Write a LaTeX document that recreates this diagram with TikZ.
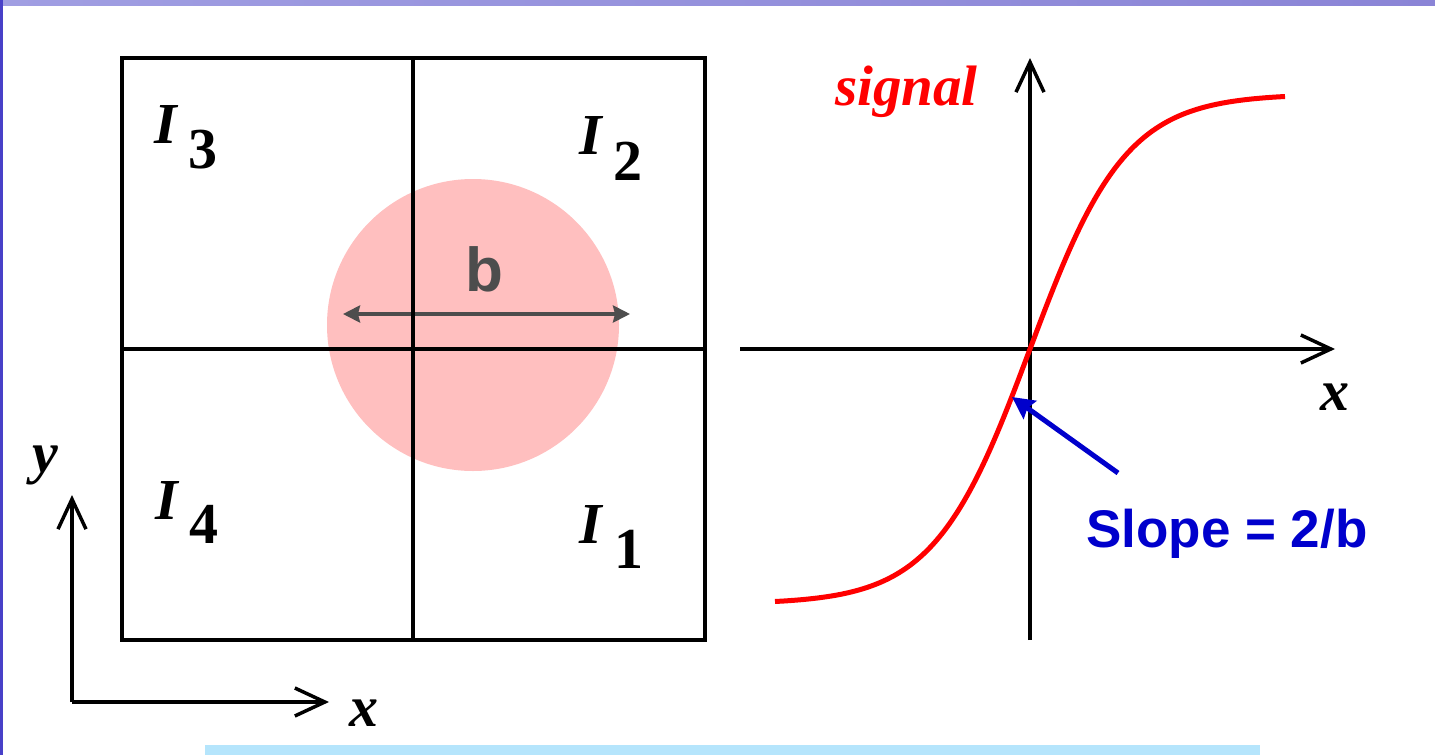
\documentclass[tikz,border=0pt]{standalone}
\usepackage{fontspec}
\setmainfont{Liberation Serif}
\newfontfamily\headfont{Liberation Sans}
\usepackage{xcolor}
\usetikzlibrary{arrows.meta, positioning}

\definecolor{slidetop}{RGB}{138,132,214}
\definecolor{slidetopl}{RGB}{160,158,226}
\definecolor{slideside}{RGB}{72,64,200}
\definecolor{captionbar}{RGB}{181,229,252}
\definecolor{spotpink}{RGB}{255,191,191}
\definecolor{beamgray}{RGB}{77,77,77}
\definecolor{slopeblue}{RGB}{0,0,204}

\begin{document}
\begin{tikzpicture}[
  x=1pt, y=-1pt,
  frame/.style={line width=3.5pt, black},
  axisarr/.style={line width=3.5pt, black,
    -{Straight Barb[length=30pt, width=28pt, line width=3.5pt]}},
  quad/.style={font=\fontsize{58}{60}\selectfont\bfseries\itshape,
    inner sep=0pt, anchor=base west},
  varlbl/.style={font=\fontsize{58}{60}\selectfont\bfseries\itshape,
    inner sep=0pt, anchor=base west},
  widtharr/.style={line width=3.5pt, beamgray,
    {Stealth[length=17pt, width=17pt, inset=2pt]}-{Stealth[length=17pt, width=17pt, inset=2pt]}},
  slopearr/.style={line width=5pt, slopeblue,
    -{Stealth[length=22pt, width=22pt, inset=3pt]}},
  curve/.style={line width=5pt, red},
]
  \useasboundingbox (0,0) rectangle (1435,755);

  % Slide background
  \shade[left color=slidetopl, right color=slidetop] (0,0) rectangle (1435,5);
  \fill[slideside] (0,0) rectangle (3,755);
  \fill[captionbar] (205,745) rectangle (1260,755);

  % Beam spot
  \fill[spotpink] (473,325) circle [radius=146pt];
  \coordinate (bl) at (343,314);
  \coordinate (br) at (630,314);
  \draw[widtharr] (bl) -- (br);
  \node[font=\headfont\fontsize{62}{64}\selectfont\bfseries, text=beamgray,
    inner sep=0pt, anchor=base west] (bwidth) at (465,291) {b};

  % Quadrant detector
  \coordinate (nw) at (122,58);
  \coordinate (se) at (705,640);
  \coordinate (n) at (413,58);
  \coordinate (s) at (413,640);
  \coordinate (w) at (122,349);
  \coordinate (e) at (705,349);
  \draw[frame] (nw) rectangle (se);
  \draw[frame] (n) -- (s);
  \draw[frame] (w) -- (e);

  \node[quad] (i3) at (154,143) {I\hspace{12pt}\raisebox{-25pt}{\upshape 3}};
  \node[quad] (i2) at (579,154) {I\hspace{12pt}\raisebox{-26pt}{\upshape 2}};
  \node[quad] (i4) at (155,519) {I\hspace{12pt}\raisebox{-24pt}{\upshape 4}};
  \node[quad] (i1) at (579,543) {I\hspace{13pt}\raisebox{-25pt}{\upshape 1}};

  % Detector axes
  \coordinate (corner) at (72,702);
  \coordinate (ytip) at (72,495);
  \coordinate (xtip) at (329,702);
  \draw[axisarr] (corner) -- (ytip);
  \draw[axisarr] (corner) -- (xtip);
  \node[varlbl] (ylbl) at (32,472) {y};
  \node[varlbl] (xlbl) at (349,726) {x};

  % Response curve axes
  \coordinate (hl) at (740,349);
  \coordinate (hr) at (1335,349);
  \coordinate (vb) at (1030,640);
  \coordinate (vt) at (1030,58);
  \draw[axisarr] (hl) -- (hr);
  \draw[axisarr] (vb) -- (vt);
  \node[varlbl] (xsig) at (1320,410) {x};
  \node[varlbl, text=red, font=\fontsize{57}{60}\selectfont\bfseries\itshape]
    (sig) at (835,105) {signal};

  % Sigmoid response
  \draw[curve] plot[domain=775:1285, samples=120, smooth]
    (\x, {349-255*tanh((\x-1030)/96)});

  % Slope callout
  \node[font=\headfont\fontsize{53}{56}\selectfont\bfseries, text=slopeblue,
    inner sep=0pt, anchor=base west] (slope) at (1086,547) {Slope = 2/b};
  \coordinate (touch) at (1012,397);
  \coordinate (tail) at (1118,473);
  \draw[slopearr] (tail) -- (touch);
\end{tikzpicture}
\end{document}
